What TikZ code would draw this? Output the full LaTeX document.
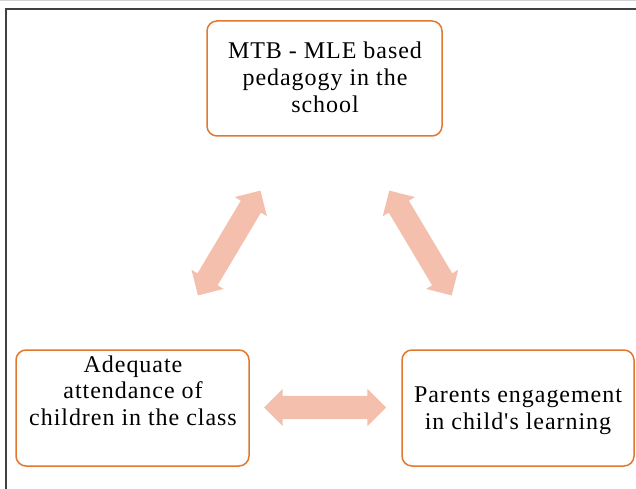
\documentclass[tikz,border=0pt]{standalone}
\usepackage{fontspec}
\setmainfont{Liberation Serif}[Ligatures=TeXOff]
\usetikzlibrary{shapes.arrows}
\definecolor{boxorange}{HTML}{E2782F}
\definecolor{arrowpink}{HTML}{F4BFAC}
\definecolor{framegray}{HTML}{404040}
\begin{document}
\begin{tikzpicture}[x=1pt,y=-1pt,
  box/.style={draw=boxorange, line width=1.5pt, rounded corners=10pt, inner sep=0pt, fill=white},
  txt/.style={align=center, inner sep=0pt, anchor=north,
    font=\fontsize{24}{26.7}\selectfont\addfontfeature{LetterSpace=4}},
  dblarrow/.style={double arrow, fill=arrowpink, draw=none, inner xsep=0pt, inner ysep=11.5pt,
    minimum height=122pt, minimum width=37pt, double arrow head extend=7pt}]
\useasboundingbox (0,0) rectangle (636,489);
% frame
\draw[gray!35, line width=0.8pt] (0,0.8) -- (636,0.8);
\draw[framegray, line width=1.2pt] (6,489) -- (6,9) -- (636,9);
% boxes
\node[box, minimum width=235pt, minimum height=115pt] (top) at (324.5,78.5) {};
\node[box, minimum width=233pt, minimum height=116pt] (left) at (132.5,408) {};
\node[box, minimum width=232pt, minimum height=116pt] (right) at (518,408) {};
% texts
\node[txt] (topT) at (325,41.9) {MTB - MLE based\\pedagogy in the\\school};
\node[txt] (leftT) at (133,355.3) {Adequate\\attendance of\\children in the class};
\node[txt] (rightT) at (518,387) {Parents engagement\\in child's learning};
% arrows
\node[dblarrow, rotate=59.2] (aTL) at (229.2,243) {};
\node[dblarrow, rotate=-59.2] (aTR) at (420.5,243) {};
\node[dblarrow] (aLR) at (325,407.5) {};
\end{tikzpicture}
\end{document}
